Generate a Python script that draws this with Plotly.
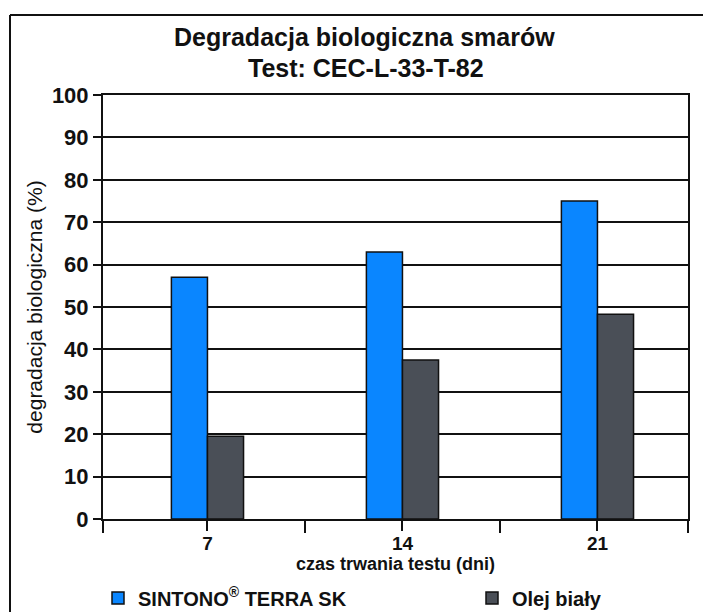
import plotly.graph_objects as go

days = [7, 14, 21]
day_labels = ["7", "14", "21"]
sintono = [57, 63, 75]
olej = [19.5, 37.5, 48.3]
y_ticks = list(range(0, 101, 10))

W, H = 703, 612
L, R, T, B = 103, 15, 95, 93
pw = W - L - R
ph = H - T - B

def px_x(x):
    return (x - L) / pw

def px_y(y):
    return (H - B - y) / ph

INK = "#111111"
font_family = "Liberation Sans, Arial, sans-serif"

fig = go.Figure()
fig.add_trace(go.Bar(
    x=days, y=sintono, name="<b>SINTONO<sup>®</sup> TERRA SK</b>",
    marker=dict(color="#0A86FF", line=dict(color=INK, width=1.5)),
    legend="legend", showlegend=True,
))
fig.add_trace(go.Bar(
    x=days, y=olej, name="<b>Olej biały</b>",
    marker=dict(color="#4A4F57", line=dict(color=INK, width=1.5)),
    legend="legend2", showlegend=True,
))

legend_common = dict(
    orientation="h", xref="container", yref="container",
    yanchor="middle", y=(H - 598) / H, xanchor="left",
    font=dict(size=20, family=font_family, color=INK),
    bgcolor="rgba(0,0,0,0)",
)

fig.update_layout(
    width=W, height=H, showlegend=True,
    margin=dict(l=L, r=R, t=T, b=B, autoexpand=False),
    paper_bgcolor="white", plot_bgcolor="white",
    barmode="group", bargap=0.63, bargroupgap=0,
    font=dict(family=font_family, color=INK),
    xaxis=dict(
        range=[3.25, 24.25], automargin=False,
        tickvals=days, ticktext=["<b>%s</b>" % t for t in day_labels],
        ticks="outside", ticklen=10, tickwidth=2, tickcolor=INK,
        ticklabelstandoff=-4,
        minor=dict(tickvals=[3.25, 10.5, 17.5, 24.25], ticks="outside",
                   ticklen=12, tickwidth=2, tickcolor=INK),
        showline=True, linecolor=INK, linewidth=2, mirror=True,
        showgrid=False, zeroline=False,
        tickfont=dict(size=19, family=font_family, color=INK),
        title=dict(text="<b>czas trwania testu (dni)</b>", standoff=0,
                   font=dict(size=18, family=font_family, color=INK)),
    ),
    yaxis=dict(
        range=[0, 100], tickvals=y_ticks, automargin=False,
        ticktext=["<b>%d</b>" % v for v in y_ticks],
        ticks="outside", ticklen=8, tickwidth=2, tickcolor=INK,
        showline=True, linecolor=INK, linewidth=2, mirror=True,
        showgrid=True, gridcolor=INK, gridwidth=2,
        zeroline=False,
        tickfont=dict(size=22, family=font_family, color=INK),
        title=dict(text="degradacja biologiczna (%)", standoff=4,
                   font=dict(size=21, family=font_family, color=INK)),
    ),
    legend=dict(x=98 / W, **legend_common),
    legend2=dict(x=472 / W, **legend_common),
    annotations=[
        dict(text="<b>Degradacja biologiczna smarów</b>", xref="paper", yref="paper",
             x=px_x(364), y=px_y(37), xanchor="center", yanchor="middle",
             showarrow=False, font=dict(size=25, family=font_family, color=INK)),
        dict(text="<b>Test: CEC-L-33-T-82</b>", xref="paper", yref="paper",
             x=px_x(366), y=px_y(68), xanchor="center", yanchor="middle",
             showarrow=False, font=dict(size=25, family=font_family, color=INK)),
    ],
    shapes=[
        dict(type="line", xref="paper", yref="paper",
             x0=px_x(10), x1=px_x(703), y0=px_y(15), y1=px_y(15),
             line=dict(color=INK, width=2)),
        dict(type="line", xref="paper", yref="paper",
             x0=px_x(10), x1=px_x(10), y0=px_y(15), y1=px_y(612),
             line=dict(color=INK, width=2)),
    ],
)

fig.write_html("out.html", config={"displayModeBar": False},
               post_script="document.body.style.margin='0';document.body.style.overflow='hidden';")
